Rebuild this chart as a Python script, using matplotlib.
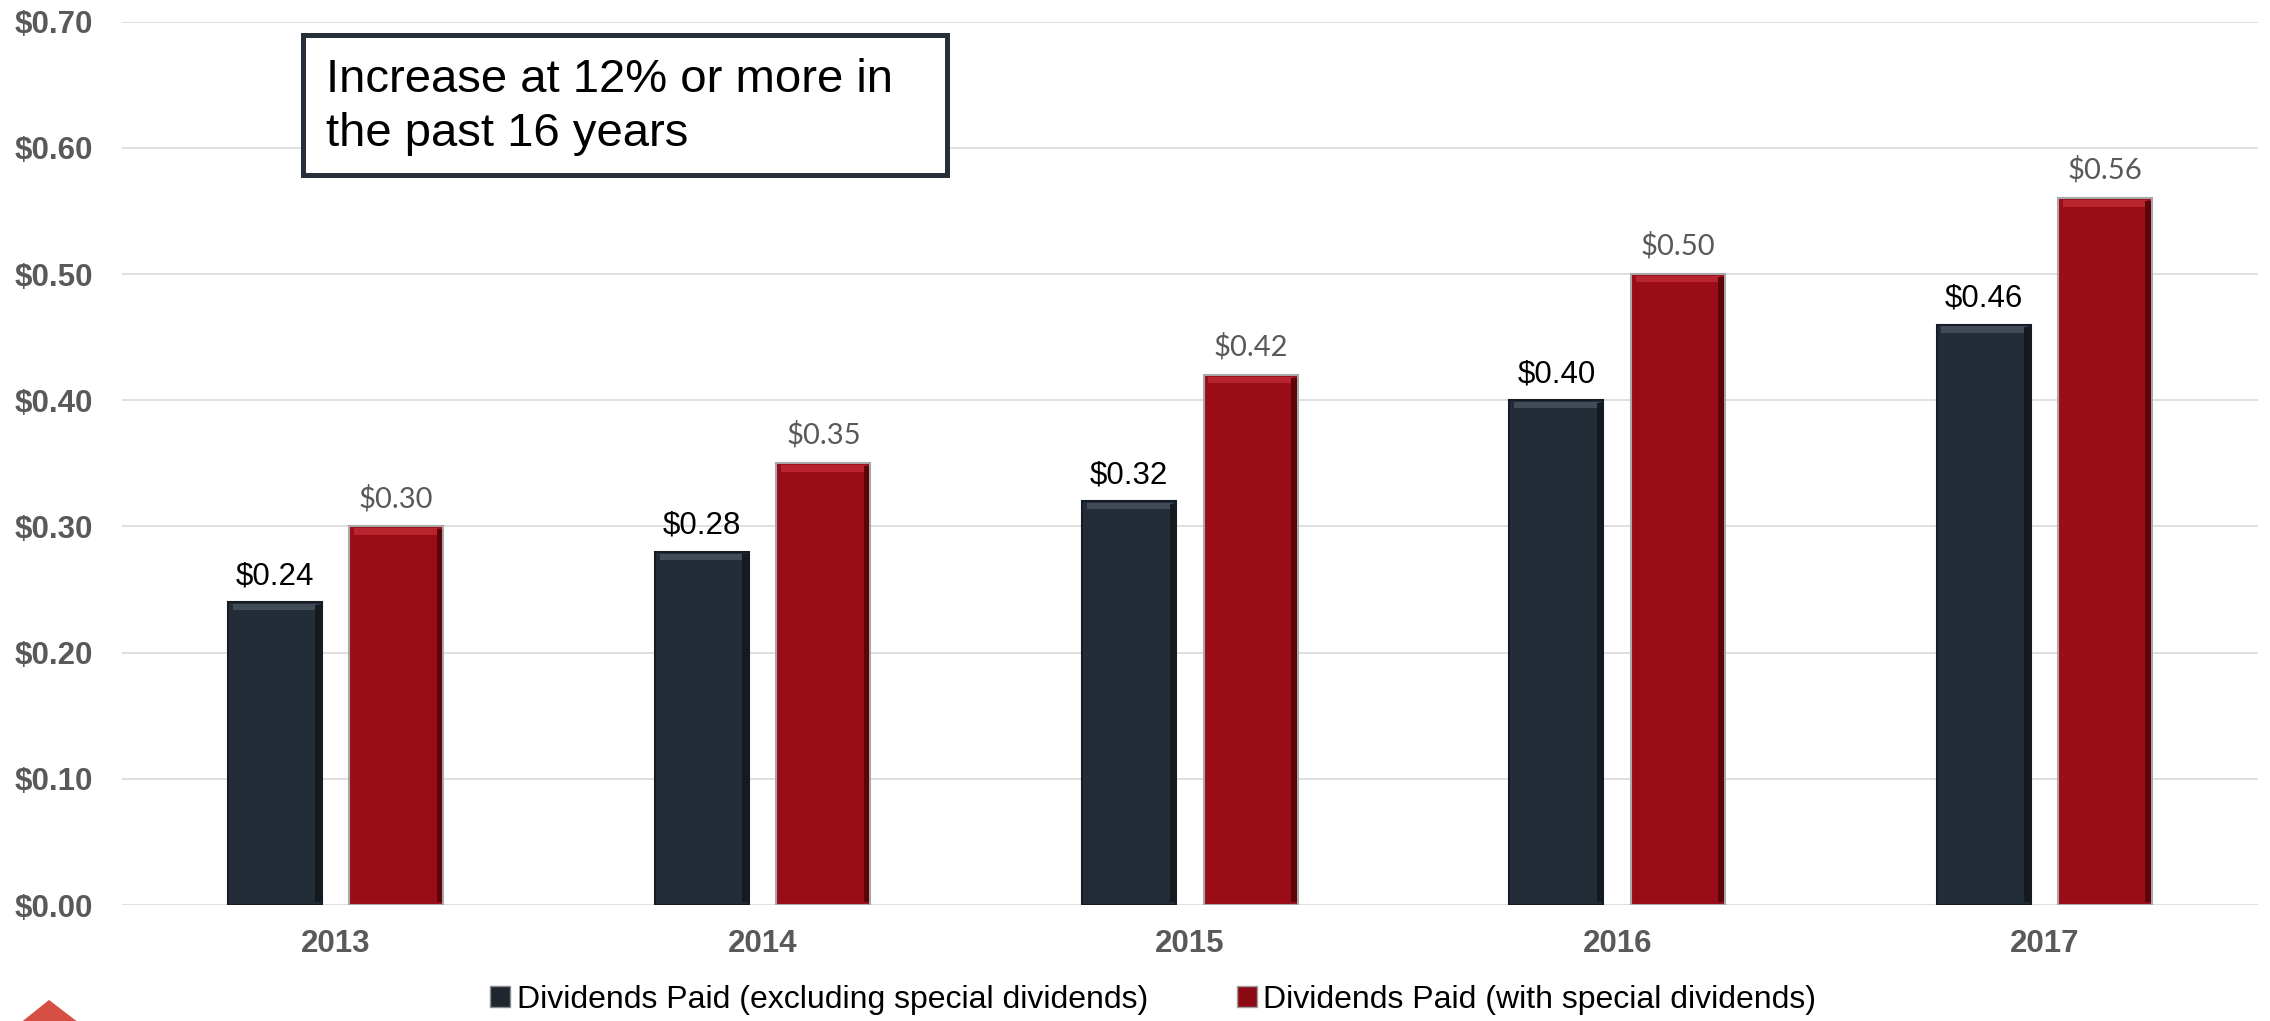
import numpy as np
import matplotlib.pyplot as plt
from matplotlib.patches import Patch, Rectangle, Polygon

##### 配当の推移 #####

years = ['2013', '2014', '2015', '2016', '2017']
regular_div = [0.24, 0.28, 0.32, 0.40, 0.46]
special_div = [0.30, 0.35, 0.42, 0.50, 0.56]
regular_labels = ['$0.24', '$0.28', '$0.32', '$0.40', '$0.46']
special_labels = ['$0.30', '$0.35', '$0.42', '$0.50', '$0.56']
yticks = [0.0, 0.1, 0.2, 0.3, 0.4, 0.5, 0.6, 0.7]
legend_names = ['Dividends Paid (excluding special dividends)',
                'Dividends Paid (with special dividends)']
note = 'Increase at 12% or more in\nthe past 16 years'

dark = '#232d38'
red = '#9a0c17'
grey = '#595959'

plt.rcParams['font.family'] = ['Liberation Sans', 'DejaVu Sans']

fig = plt.figure(figsize=(22.7, 10.21), dpi=100)
ax = fig.add_axes([0.0537, 0.1136, 0.9410, 0.8651])

x = np.arange(len(years))
off = 0.142
w = 0.22

# 棒グラフ本体
ax.bar(x - off, regular_div, w, color=dark, edgecolor='#161c23', linewidth=1.5, zorder=3)
ax.bar(x + off, special_div, w, color=red, edgecolor='#a8a8a8', linewidth=1.5, zorder=3)

# 上端のハイライト（ベベル風）
reg = np.array(regular_div)
spc = np.array(special_div)
ax.bar(x - off, 0.005, w * 0.9, bottom=reg - 0.0065, color='#414c58', zorder=4)
ax.bar(x + off, 0.005, w * 0.9, bottom=spc - 0.0065, color='#b8252f', zorder=4)
# 右側の影
ax.bar(x - off + w * 0.46, reg - 0.004, w * 0.06, bottom=0.002, color='#141a20', zorder=4)
ax.bar(x + off + w * 0.46, spc - 0.004, w * 0.06, bottom=0.002, color='#5e0409', zorder=4)

# 値ラベル
for xi, v, s in zip(x, regular_div, regular_labels):
    ax.annotate(s, (xi - off, v), xytext=(0, 13), textcoords='offset points',
                ha='center', va='baseline', fontsize=22.5, color='black')
for xi, v, s in zip(x, special_div, special_labels):
    ax.annotate(s, (xi + off, v), xytext=(0, 14), textcoords='offset points',
                ha='center', va='baseline', fontsize=21, color=grey,
                family=['Lato', 'DejaVu Sans'])

ax.set_xlim(-0.5, len(years) - 0.5)
ax.set_ylim(0, 0.70)
ax.set_yticks(yticks)
ax.set_yticklabels(['$%.2f' % t for t in yticks])
ax.set_xticks(x)
ax.set_xticklabels(years)
ax.tick_params(axis='y', length=0, pad=21, labelsize=22.5, labelcolor=grey)
ax.tick_params(axis='x', length=0, pad=17, labelsize=22.5, labelcolor=grey)
for lab in ax.get_xticklabels() + ax.get_yticklabels():
    lab.set_fontweight('bold')
ax.grid(axis='y', color='#d9d9d9', linewidth=1.2, zorder=0)
for sp in ax.spines.values():
    sp.set_visible(False)

# 注記ボックス
fig.patches.append(Rectangle((0.1335, 0.8286), 0.2837, 0.1371, transform=fig.transFigure,
                             facecolor='white', edgecolor='#262f3a', linewidth=3.6, zorder=5))
fig.text(0.1436, 0.943, note, ha='left', va='top', fontsize=34, linespacing=1.3,
         color='black', zorder=6)

# 凡例
handles = [Patch(facecolor='#1e2630', edgecolor='#8c8c8c', linewidth=1),
           Patch(facecolor='#8b0a14', edgecolor='#a0a0a0', linewidth=1)]
fig.legend(handles, legend_names, loc='center left', bbox_to_anchor=(0.2160, 0.0206),
           ncol=2, frameon=False, fontsize=23, handlelength=0.63, handleheight=0.63,
           handletextpad=0.19, columnspacing=2.8, borderpad=0, borderaxespad=0)

# 左下の飾り
fig.patches.append(Polygon([(0.0044, -0.01), (0.0216, 0.0206), (0.0396, -0.01)],
                           closed=True, transform=fig.transFigure,
                           facecolor='#d64f45', edgecolor='none'))

plt.savefig('out.png', dpi=100)
